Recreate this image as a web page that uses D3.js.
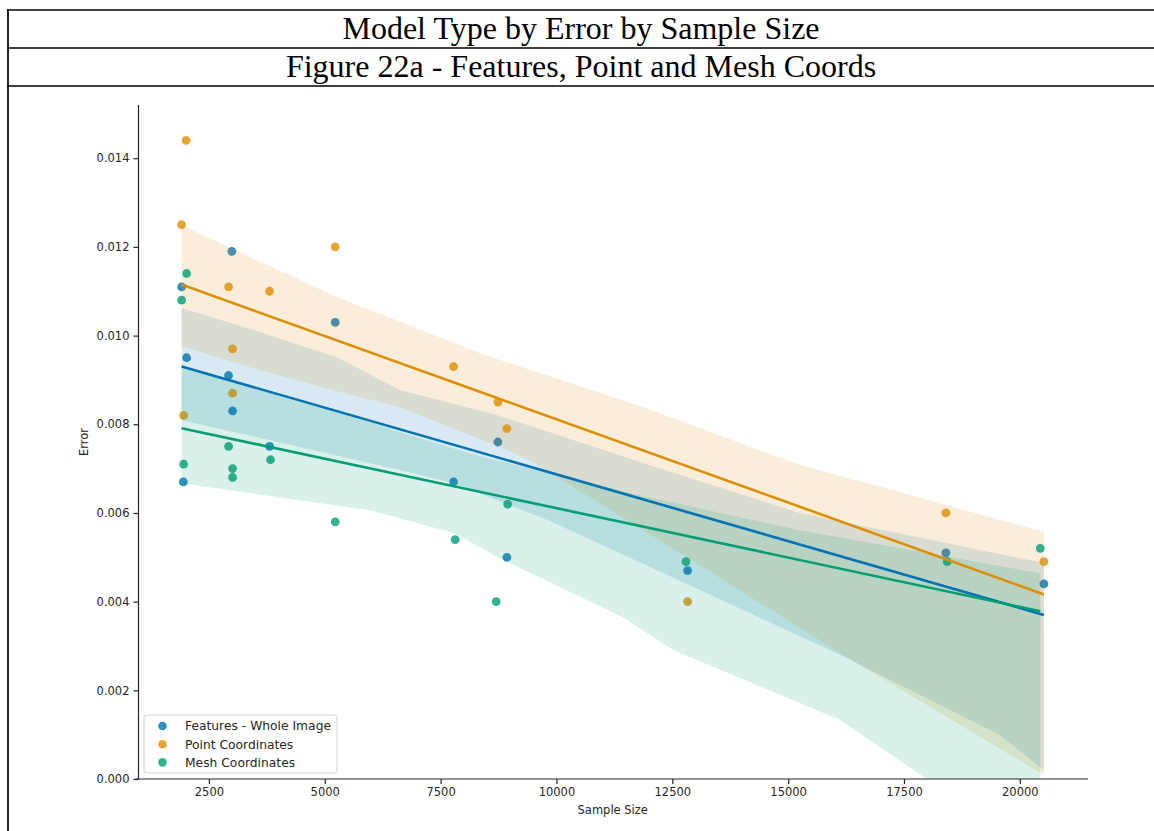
<!DOCTYPE html>
<html>
<head>
<meta charset="utf-8">
<script src="https://cdn.jsdelivr.net/npm/d3@7"></script>
<style>
  body { margin: 0; background: #fff; }
  svg { display: block; }
</style>
</head>
<body>
<svg id="chart" width="1154" height="831"></svg>
<script>
// ---- data ----------------------------------------------------------------
const titleLines = ["Model Type by Error by Sample Size", "Figure 22a - Features, Point and Mesh Coords"];
const seriesNames = ["Features - Whole Image", "Point Coordinates", "Mesh Coordinates"];
const seriesColors = ["#0173b2", "#de8f05", "#029e73"];

const xTicks = [2500, 5000, 7500, 10000, 12500, 15000, 17500, 20000];
const yTicks = [0, 0.002, 0.004, 0.006, 0.008, 0.010, 0.012, 0.014];

// Features - Whole Image
const featuresSize  = [1911, 2996, 5226, 2019, 2925, 3011, 3810, 1948, 8736, 7780, 8931, 12830, 18404, 20519];
const featuresError = [0.0111, 0.0119, 0.0103, 0.0095, 0.0091, 0.0083, 0.0075, 0.0067, 0.0076, 0.0067, 0.0050, 0.0047, 0.0051, 0.0044];

// Point Coordinates
const pointSize  = [2010, 1911, 2925, 3810, 5226, 3011, 3011, 1954, 7780, 8736, 8931, 12830, 18404, 20519];
const pointError = [0.0144, 0.0125, 0.0111, 0.0110, 0.0120, 0.0097, 0.0087, 0.0082, 0.0093, 0.0085, 0.0079, 0.0040, 0.0060, 0.0049];

// Mesh Coordinates
const meshSize  = [2019, 1911, 2925, 3830, 1954, 3011, 3011, 5226, 8946, 7815, 8700, 12794, 18433, 20440];
const meshError = [0.0114, 0.0108, 0.0075, 0.0072, 0.0071, 0.0070, 0.0068, 0.0058, 0.0062, 0.0054, 0.0040, 0.0049, 0.0049, 0.0052];

// bootstrapped 95% confidence bands of each fit: [sample size, error]
const featuresBandUpper = [[1911, 0.01062], [3601, 0.01008], [5262, 0.00951], [6622, 0.00877], [8715, 0.00821], [11801, 0.00715], [15254, 0.00600], [20519, 0.00487]];
const featuresBandLower = [[1911, 0.00809], [4464, 0.00749], [6622, 0.00697], [7787, 0.00667], [9859, 0.00582], [13096, 0.00426], [16117, 0.00280], [19570, 0.00099], [20519, 0.00020]];

const pointBandUpper = [[1911, 0.01249], [3536, 0.01170], [5262, 0.01087], [6708, 0.01028], [8348, 0.00960], [11801, 0.00841], [15254, 0.00708], [17412, 0.00647], [20519, 0.00557]];
const pointBandLower = [[1911, 0.00976], [3601, 0.00922], [5327, 0.00873], [6622, 0.00839], [8780, 0.00749], [9427, 0.00719], [11801, 0.00566], [16117, 0.00284], [20519, 0.00009]];

const meshBandUpper = [[1911, 0.00927], [5262, 0.00832], [6622, 0.00782], [8348, 0.00728], [11801, 0.00640], [15254, 0.00561], [20440, 0.00464]];
const meshBandLower = [[1911, 0.00667], [5974, 0.00606], [7787, 0.00555], [8715, 0.00501], [11434, 0.00365], [12513, 0.00291], [16117, 0.00133], [17994, 0.0], [20440, -0.0016]];

const series = [
  { name: seriesNames[0], color: seriesColors[0], xs: featuresSize, ys: featuresError, upper: featuresBandUpper, lower: featuresBandLower },
  { name: seriesNames[1], color: seriesColors[1], xs: pointSize,    ys: pointError,    upper: pointBandUpper,    lower: pointBandLower },
  { name: seriesNames[2], color: seriesColors[2], xs: meshSize,     ys: meshError,     upper: meshBandUpper,     lower: meshBandLower }
];

// ---- layout ----------------------------------------------------------------
const svg = d3.select("#chart");
const plot = { left: 138.5, right: 1087, top: 105, bottom: 779 };
const axisColor = "#262626";
const tickFont = "DejaVu Sans, sans-serif";

const x = d3.scaleLinear().domain([981, 21449]).range([plot.left, plot.right]);
const y = d3.scaleLinear().domain([0, 0.0152]).range([plot.bottom, plot.top]);

// ---- title table ----------------------------------------------------------
const frame = svg.append("g").attr("stroke", "#000").attr("stroke-width", 1.7);
[10, 48, 86].forEach(yy => frame.append("line").attr("x1", 7).attr("x2", 1154).attr("y1", yy).attr("y2", yy));
frame.append("line").attr("x1", 8).attr("x2", 8).attr("y1", 9).attr("y2", 831);

svg.selectAll("text.title")
  .data(titleLines)
  .join("text")
  .attr("class", "title")
  .attr("x", 581)
  .attr("y", (d, i) => 39 + i * 38)
  .attr("text-anchor", "middle")
  .attr("font-family", "Liberation Serif, Times New Roman, serif")
  .attr("font-size", 32)
  .attr("fill", "#000")
  .text(d => d);

// ---- plot marks ------------------------------------------------------------
svg.append("clipPath").attr("id", "plot-clip")
  .append("rect")
  .attr("x", plot.left).attr("y", plot.top)
  .attr("width", plot.right - plot.left).attr("height", plot.bottom - plot.top);

const marks = svg.append("g").attr("clip-path", "url(#plot-clip)");
const lineGen = d3.line().x(d => x(d[0])).y(d => y(d[1]));

// least-squares fit of error on sample size
function fit(xs, ys) {
  const mx = d3.mean(xs), my = d3.mean(ys);
  let sxy = 0, sxx = 0;
  xs.forEach((v, i) => { sxy += (v - mx) * (ys[i] - my); sxx += (v - mx) * (v - mx); });
  const slope = sxy / sxx;
  return v => my + slope * (v - mx);
}

// points and confidence bands first, regression lines on top
series.forEach(s => {
  marks.append("g")
    .selectAll("circle")
    .data(s.xs.map((v, i) => [v, s.ys[i]]))
    .join("circle")
    .attr("cx", d => x(d[0]))
    .attr("cy", d => y(d[1]))
    .attr("r", 4.4)
    .attr("fill", s.color)
    .attr("fill-opacity", 0.8);

  const outline = s.upper.concat(s.lower.slice().reverse());
  marks.append("path")
    .attr("d", lineGen(outline) + "Z")
    .attr("fill", s.color)
    .attr("fill-opacity", 0.15)
    .attr("stroke", "none");
});

series.forEach(s => {
  const f = fit(s.xs, s.ys);
  const ends = d3.extent(s.xs);
  marks.append("path")
    .attr("d", lineGen(ends.map(v => [v, f(v)])))
    .attr("fill", "none")
    .attr("stroke", s.color)
    .attr("stroke-width", 2.6);
});

// ---- axes -------------------------------------------------------------------
const xAxis = svg.append("g")
  .attr("transform", `translate(0,${plot.bottom})`)
  .call(d3.axisBottom(x).tickValues(xTicks).tickFormat(d3.format("d")).tickSize(5).tickSizeOuter(0).tickPadding(4));
xAxis.select(".domain").attr("d", `M${plot.left - 3},0H${plot.right + 1}`);

const yAxis = svg.append("g")
  .attr("transform", `translate(${plot.left},0)`)
  .call(d3.axisLeft(y).tickValues(yTicks).tickFormat(d3.format(".3f")).tickSize(5).tickSizeOuter(0).tickPadding(4));
yAxis.select(".domain").attr("d", `M0,${plot.top}V${plot.bottom}`);

[xAxis, yAxis].forEach(g => {
  g.select(".domain").attr("stroke", axisColor).attr("stroke-width", 1.2);
  g.selectAll(".tick line").attr("stroke", axisColor).attr("stroke-width", 1.2);
  g.selectAll(".tick text").attr("fill", axisColor).attr("font-family", tickFont).attr("font-size", 11.5);
});

svg.append("text")
  .attr("transform", "translate(88,442) rotate(-90)")
  .attr("text-anchor", "middle")
  .attr("font-family", tickFont)
  .attr("font-size", 11.5)
  .attr("fill", axisColor)
  .text("Error");

svg.append("text")
  .attr("x", (plot.left + plot.right) / 2)
  .attr("y", 814)
  .attr("text-anchor", "middle")
  .attr("font-family", tickFont)
  .attr("font-size", 11.5)
  .attr("fill", axisColor)
  .text("Sample Size");

// ---- legend -----------------------------------------------------------------
const legend = svg.append("g").attr("transform", "translate(144,715)");
legend.append("rect")
  .attr("width", 193).attr("height", 58).attr("rx", 3)
  .attr("fill", "#fff").attr("fill-opacity", 0.8)
  .attr("stroke", "#d0d0d0").attr("stroke-width", 1);
const rows = legend.selectAll("g.row")
  .data(series)
  .join("g")
  .attr("class", "row")
  .attr("transform", (d, i) => `translate(0,${11 + i * 18.2})`);
rows.append("circle")
  .attr("cx", 18.5).attr("cy", 0).attr("r", 4.3)
  .attr("fill", d => d.color).attr("fill-opacity", 0.8);
rows.append("text")
  .attr("x", 41).attr("y", 4.3)
  .attr("font-family", tickFont)
  .attr("font-size", 12.3)
  .attr("fill", axisColor)
  .text(d => d.name);
</script>
</body>
</html>
